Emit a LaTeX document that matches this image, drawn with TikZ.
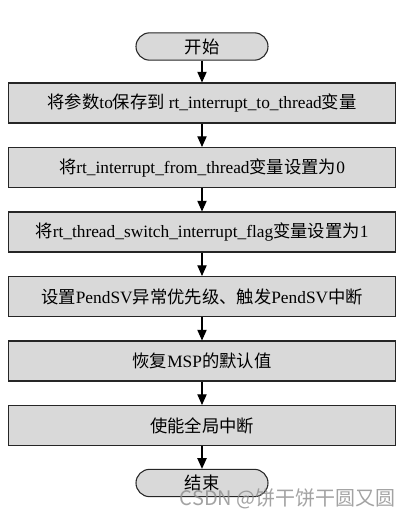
\documentclass[tikz,border=0pt]{standalone}
\usepackage{fontspec}
\setmainfont{Liberation Serif}
\newfontfamily\cjk{Noto Sans CJK SC}
\usetikzlibrary{arrows.meta}
\tikzset{
  procbox/.style={draw=black!85, line width=0.8pt, fill=black!15, minimum width=290.25pt, minimum height=30pt, inner sep=0pt, font=\fontsize{13pt}{15pt}\selectfont},
  termbox/.style={draw=black!85, line width=0.8pt, fill=black!15, minimum width=99pt, minimum height=20.5pt, rounded corners=10.25pt, inner sep=0pt, font=\fontsize{13pt}{15pt}\selectfont},
  flow/.style={line width=0.8pt, -{Triangle[length=8pt,width=7pt]}},
}
\begin{document}
\begin{tikzpicture}[x=0.75pt,y=-0.75pt]
\useasboundingbox (0,0) rectangle (408,517);
\node[termbox] (start) at (202,46.5) {\cjk 开始};
\node[procbox] (b1) at (202,103) {\cjk 将参数\rmfamily to\cjk 保存到 \rmfamily rt\_interrupt\_to\_thread\cjk 变量};
\node[procbox] (b2) at (202,167.5) {\cjk 将\rmfamily rt\_interrupt\_from\_thread\cjk 变量设置为\rmfamily 0};
\node[procbox] (b3) at (202,232) {\cjk 将\rmfamily rt\_thread\_switch\_interrupt\_flag\cjk 变量设置为\rmfamily 1};
\node[procbox] (b4) at (202,296.5) {\cjk 设置\rmfamily PendSV\cjk 异常优先级、触发\rmfamily PendSV\cjk 中断};
\node[procbox] (b5) at (202,361) {\cjk 恢复\rmfamily MSP\cjk 的默认值};
\node[procbox] (b6) at (202,425.5) {\cjk 使能全局中断};
\node[termbox] (end) at (202,483) {\raisebox{1.5pt}{\cjk 结束}};
\draw[flow] (start) -- (b1);
\draw[flow] (b1) -- (b2);
\draw[flow] (b2) -- (b3);
\draw[flow] (b3) -- (b4);
\draw[flow] (b4) -- (b5);
\draw[flow] (b5) -- (b6);
\draw[flow] (b6) -- (end);
\node[anchor=east, text=black!45, opacity=0.8, inner sep=0pt, font=\fontsize{15pt}{17pt}\selectfont] (wm) at (396,499) {\cjk CSDN @饼干饼干圆又圆};
\end{tikzpicture}
\end{document}
